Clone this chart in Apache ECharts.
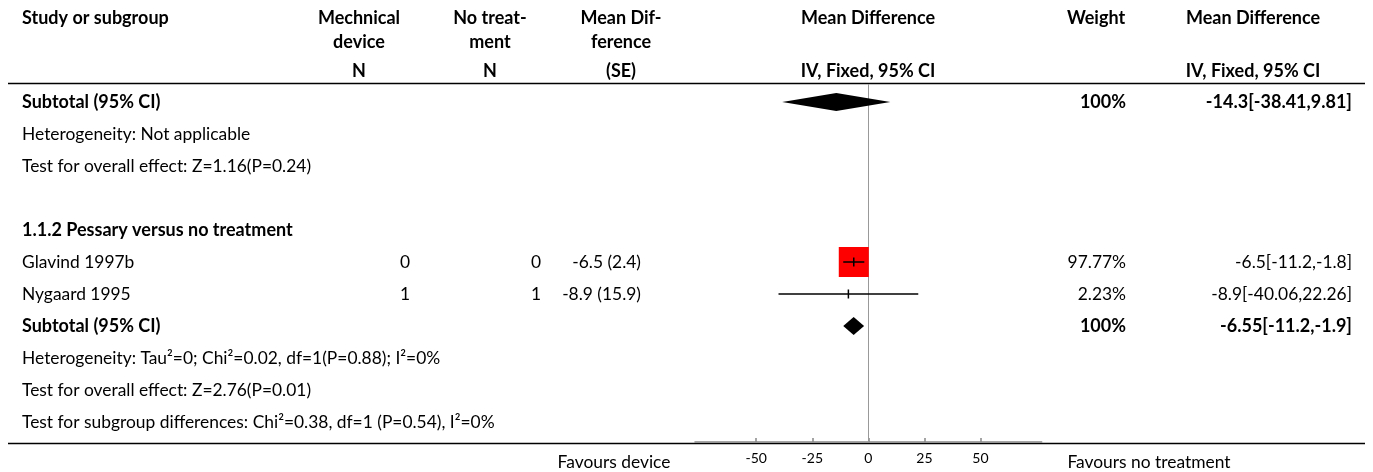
<!DOCTYPE html>
<html><head><meta charset="utf-8">
<script src="https://cdn.jsdelivr.net/npm/echarts@6/dist/echarts.min.js"></script>
<style>html,body{margin:0;padding:0;background:#fff}#c{width:1373px;height:472px}</style>
</head><body><div id="c"></div>
<script>
// ---- data ----
const studyNames = ['Glavind 1997b', 'Nygaard 1995'];
const nDevice = [0, 1];
const nControl = [0, 1];
const meanDiff = [-6.5, -8.9];
const stdErr = [2.4, 15.9];
const ciLow = [-11.2, -40.06];
const ciHigh = [-1.8, 22.26];
const weights = [97.77, 2.23];

const subtotalMD = [-14.3, -6.55];
const subtotalLow = [-38.41, -11.2];
const subtotalHigh = [9.81, -1.9];
const subtotalWeight = [100, 100];

const subgroupTitle = '1.1.2 Pessary versus no treatment';
const overallNotes = ['Heterogeneity: Not applicable', 'Test for overall effect: Z=1.16(P=0.24)'];
const subgroupNotes = ['Heterogeneity: Tau\u00b2=0; Chi\u00b2=0.02, df=1(P=0.88); I\u00b2=0%', 'Test for overall effect: Z=2.76(P=0.01)', 'Test for subgroup differences: Chi\u00b2=0.38, df=1 (P=0.54), I\u00b2=0%'];
const tickValues = [-50, -25, 0, 25, 50];
const favourLeft = 'Favours device';
const favourRight = 'Favours no treatment';

// ---- layout ----
const FONT = 'Lato';
const FS = 17.4;
const FSB = 18;
const COL = { study: 22, nD: 410, nC: 541, mdse: 641, weight: 1126, ci: 1352 };

// table rows
const rows = [];
rows.push({ row: 0, bold: true, study: 'Subtotal (95% CI)', weight: subtotalWeight[0] + '%', ci: subtotalMD[0] + '[' + subtotalLow[0] + ',' + subtotalHigh[0] + ']' });
overallNotes.forEach((t, i) => rows.push({ row: 1 + i, study: t }));
rows.push({ row: 4, bold: true, study: subgroupTitle });
studyNames.forEach((s, i) => rows.push({
  row: 5 + i, study: s, nD: String(nDevice[i]), nC: String(nControl[i]),
  mdse: meanDiff[i] + ' (' + stdErr[i] + ')', weight: weights[i] + '%',
  ci: meanDiff[i] + '[' + ciLow[i] + ',' + ciHigh[i] + ']'
}));
rows.push({ row: 7, bold: true, study: 'Subtotal (95% CI)', weight: subtotalWeight[1] + '%', ci: subtotalMD[1] + '[' + subtotalLow[1] + ',' + subtotalHigh[1] + ']' });
subgroupNotes.forEach((t, i) => rows.push({ row: 8 + i, study: t }));

const studyData = studyNames.map((s, i) => [meanDiff[i], 5 + i, ciLow[i], ciHigh[i], weights[i]]);
const diamondData = [[subtotalMD[0], 0, subtotalLow[0], subtotalHigh[0]], [subtotalMD[1], 7, subtotalLow[1], subtotalHigh[1]]];

const YMIN = -0.5625, YMAX = 10.625;

function font(bold) { return bold ? ('bold ' + FSB + 'px ' + FONT) : (FS + 'px ' + FONT); }

const chart = echarts.init(document.getElementById('c'), null, { renderer: 'canvas' });

function hdr(text, x, y, align, bold) {
  return { type: 'text', x: x, y: y, silent: true, style: { text: text, font: font(bold !== false), fill: '#000', align: align || 'center', verticalAlign: 'middle' } };
}

const graphics = [
  hdr('Study or subgroup', 22, 18, 'left'),
  hdr('Mechnical', 359, 18), hdr('device', 359, 42), hdr('N', 359, 71),
  hdr('No treat-', 490, 18), hdr('ment', 490, 42), hdr('N', 490, 71),
  hdr('Mean Dif-', 621, 18), hdr('ference', 621, 42), hdr('(SE)', 621, 71),
  hdr('Mean Difference', 868, 18), hdr('IV, Fixed, 95% CI', 868, 71),
  hdr('Weight', 1096, 18),
  hdr('Mean Difference', 1253, 18), hdr('IV, Fixed, 95% CI', 1253, 71),
  { type: 'line', silent: true, shape: { x1: 8, y1: 83.5, x2: 1365, y2: 83.5 }, style: { stroke: '#000', lineWidth: 1.5 } },
  { type: 'line', silent: true, shape: { x1: 8, y1: 443.5, x2: 1365, y2: 443.5 }, style: { stroke: '#000', lineWidth: 1.5 } },
  hdr(favourLeft, 614, 462, 'center', false),
  hdr(favourRight, 1149, 462, 'center', false)
];

const option = {
  animation: false,
  backgroundColor: '#fff',
  grid: { left: 695, width: 346.7, top: 84, height: 358 },
  xAxis: {
    type: 'value', min: -77.3, max: 77.3, position: 'bottom',
    splitLine: { show: false },
    axisLine: { show: true, onZero: false, lineStyle: { color: '#888', width: 1.5 } },
    axisTick: { show: true, inside: true, length: 4, customValues: tickValues, lineStyle: { color: '#888', width: 1.5 } },
    axisLabel: { customValues: tickValues, fontFamily: FONT, fontSize: 14, color: '#000', margin: 9 }
  },
  yAxis: { type: 'value', min: YMIN, max: YMAX, inverse: true, show: false },
  graphic: graphics,
  series: [
    { // zero line
      type: 'custom', silent: true, data: [[0]],
      renderItem: (p, api) => {
        const a = api.coord([0, YMIN]), b = api.coord([0, YMAX]);
        return { type: 'line', shape: { x1: Math.round(a[0]) + 0.5, y1: a[1], x2: Math.round(b[0]) + 0.5, y2: b[1] }, style: { stroke: '#999', lineWidth: 1 } };
      }
    },
    { // table text
      type: 'custom', silent: true, data: rows.map(r => [0, r.row]),
      renderItem: (p, api) => {
        const r = rows[p.dataIndex];
        const y = api.coord([0, r.row])[1];
        const kids = [];
        const add = (key, align) => { if (r[key] !== undefined) kids.push({ type: 'text', style: { text: r[key], x: COL[key], y: y, align: align, verticalAlign: 'middle', font: font(r.bold), fill: '#000' } }); };
        add('study', 'left'); add('nD', 'right'); add('nC', 'right'); add('mdse', 'right'); add('weight', 'right'); add('ci', 'right');
        return { type: 'group', children: kids };
      }
    },
    { // studies
      type: 'custom', silent: true, data: studyData,
      renderItem: (p, api) => {
        const c = api.coord([api.value(0), api.value(1)]);
        const l = api.coord([api.value(2), api.value(1)]);
        const h = api.coord([api.value(3), api.value(1)]);
        const side = api.value(4) / 100 * 30.7;
        return { type: 'group', children: [
          { type: 'rect', shape: { x: c[0] - side / 2, y: c[1] - side / 2, width: side, height: side }, style: { fill: '#ff0000' } },
          { type: 'line', shape: { x1: l[0], y1: c[1], x2: h[0], y2: c[1] }, style: { stroke: '#000', lineWidth: 1.5 } },
          { type: 'line', shape: { x1: c[0], y1: c[1] - 4.5, x2: c[0], y2: c[1] + 4.5 }, style: { stroke: '#000', lineWidth: 1.5 } }
        ] };
      }
    },
    { // diamonds
      type: 'custom', silent: true, data: diamondData,
      renderItem: (p, api) => {
        const c = api.coord([api.value(0), api.value(1)]);
        const l = api.coord([api.value(2), api.value(1)]);
        const h = api.coord([api.value(3), api.value(1)]);
        return { type: 'polygon', shape: { points: [[l[0], c[1]], [c[0], c[1] - 9], [h[0], c[1]], [c[0], c[1] + 9]] }, style: { fill: '#000' } };
      }
    }
  ]
};
chart.setOption(option);
</script></body></html>
